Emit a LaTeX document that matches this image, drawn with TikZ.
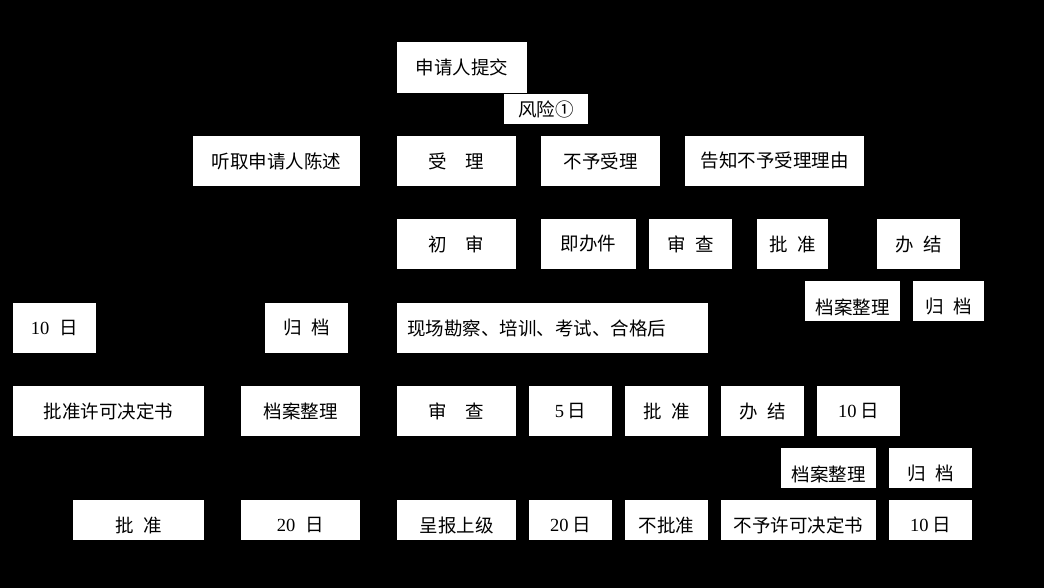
\documentclass[tikz,border=0pt]{standalone}
\usepackage{fontspec}
\setmainfont{Noto Sans CJK SC}
\newfontfamily\tms{Liberation Serif}
\tikzset{
  box/.style={fill=white, draw=none, inner sep=0pt, outer sep=0pt},
  txt/.style={inner sep=0pt, text=black, font=\fontsize{18.5pt}{22pt}\selectfont},
}
% name x1 y1 x2 y2 dy text
\newcommand\bx[7]{%
  \node[box, minimum width={(#4-#2)*1pt}, minimum height={(#5-#3)*1pt}] (#1) at ({(#2+#4)/2},{(#3+#5)/2}) {};
  \node[txt] (#1t) at ([yshift=-#6pt]#1.center) {#7};
}
\newcommand\fs{\hspace{1em}}
\newcommand\hs{\hspace{0.5em}}
\begin{document}
\begin{tikzpicture}[x=1pt,y=-1pt]
\useasboundingbox (0,0) rectangle (1044,588);
\fill[black] (0,0) rectangle (1044,588);
% row 0
\bx{sub}{397}{42}{527}{93}{0}{申请人提交}
\bx{risk}{504}{94}{588}{124}{0}{风险①}
% row 1
\bx{hear}{193}{136}{360}{186}{0}{听取申请人陈述}
\bx{acc}{397}{136}{516}{186}{0}{受\fs 理}
\bx{rej}{541}{136}{660}{186}{0}{不予受理}
\bx{inf}{685}{136}{864}{186}{0}{告知不予受理理由}
% row 2
\bx{init}{397}{219}{516}{269}{0}{初\fs 审}
\bx{imm}{541}{219}{636}{269}{0}{即办件}
\bx{rev1}{649}{219}{732}{269}{0}{审\hs 查}
\bx{app1}{757}{219}{828}{269}{0}{批\hs 准}
\bx{done1}{877}{219}{960}{269}{0}{办\hs 结}
\bx{arc1}{805}{281}{900}{321}{6}{档案整理}
\bx{fil1}{913}{281}{984}{321}{6}{归\hs 档}
% row 3
\bx{tenL}{13}{303}{96}{353}{0}{{\tms 10}\hspace{0.55em}日}
\bx{fil2}{265}{303}{348}{353}{0}{归\hs 档}
\node[box, minimum width=311pt, minimum height=50pt] (site) at (552.5,328) {};
\node[txt, anchor=west] (sitet) at ([xshift=10pt]site.west) {现场勘察、培训、考试、合格后};
% row 4
\bx{lic}{13}{386}{204}{436}{0}{批准许可决定书}
\bx{arc2}{241}{386}{360}{436}{0}{档案整理}
\bx{rev2}{397}{386}{516}{436}{0}{审\fs 查}
\bx{five}{529}{386}{612}{436}{0}{{\tms 5}\hspace{0.2em}日}
\bx{app2}{625}{386}{708}{436}{0}{批\hs 准}
\bx{done2}{721}{386}{804}{436}{0}{办\hs 结}
\bx{tenA}{817}{386}{900}{436}{0}{{\tms 10}\hspace{0.2em}日}
\bx{arc3}{781}{448}{876}{488}{6}{档案整理}
\bx{fil3}{889}{448}{972}{488}{6}{归\hs 档}
% row 5
\bx{app3}{73}{500}{204}{540}{5}{批\hs 准}
\bx{twL}{241}{500}{360}{540}{5}{{\tms 20}\hspace{0.55em}日}
\bx{rep}{397}{500}{516}{540}{5}{呈报上级}
\bx{twR}{529}{500}{612}{540}{5}{{\tms 20}\hspace{0.2em}日}
\bx{nap}{625}{500}{708}{540}{5}{不批准}
\bx{den}{721}{500}{876}{540}{5}{不予许可决定书}
\bx{tenB}{889}{500}{972}{540}{5}{{\tms 10}\hspace{0.2em}日}
\end{tikzpicture}
\end{document}
